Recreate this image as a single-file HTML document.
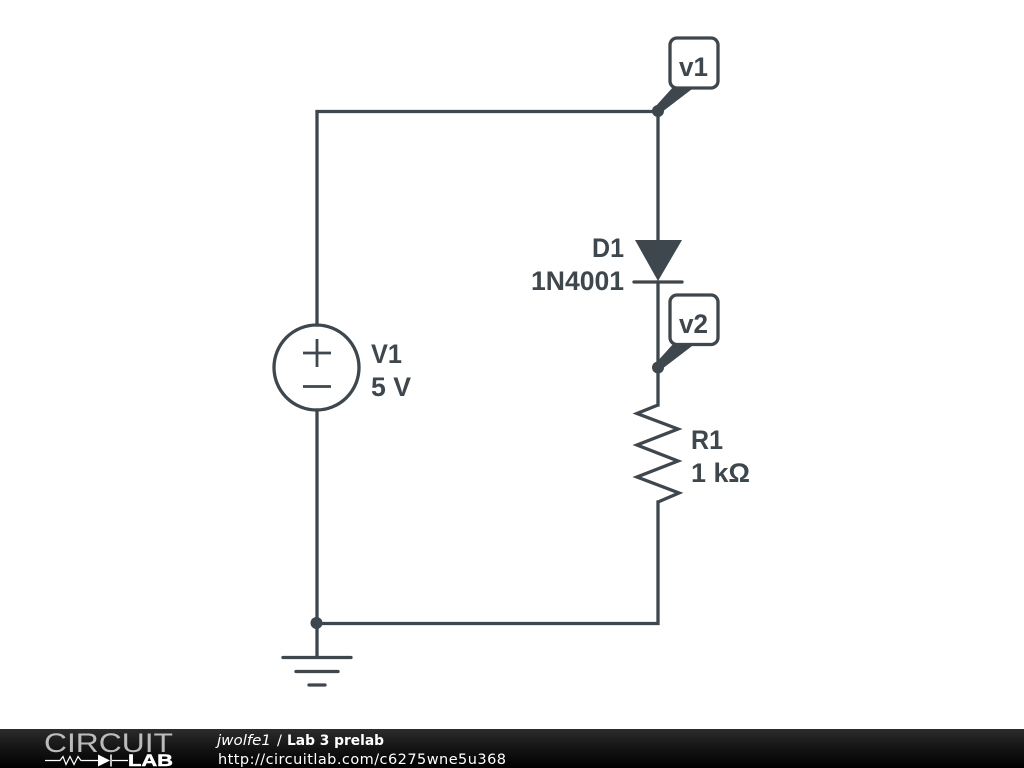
<!DOCTYPE html>
<html><head><meta charset="utf-8"><style>
html,body{margin:0;padding:0;background:#fff;width:1024px;height:768px;overflow:hidden}
svg{display:block}
.l{font-family:"Liberation Sans",Arial,sans-serif;font-weight:700;font-size:26.500px;fill:#3d474d}
.w{fill:none;stroke:#3d474d;stroke-width:3.300;stroke-linecap:square;stroke-linejoin:miter}
.d{font-family:"DejaVu Sans",sans-serif;font-size:14.500px;fill:#fff}
</style></head><body>
<svg width="1024" height="768" viewBox="0 0 1024 768" xmlns="http://www.w3.org/2000/svg">
<defs><linearGradient id="g" x1="0" y1="0" x2="0" y2="1"><stop offset="0" stop-color="#2c2c2c"/><stop offset="0.5" stop-color="#141414"/><stop offset="1" stop-color="#000"/></linearGradient></defs>
<rect width="1024" height="768" fill="#fff"/>
<path class="w" d="M317 325V111.500H658V240M658 282V405M658 502V623.500H317V410M317 623V657"/>
<circle cx="316.500" cy="367.500" r="42.500" fill="none" stroke="#3d474d" stroke-width="3.300"/>
<path d="M303 353H331M317 339V367M303 386.500H331" fill="none" stroke="#3d474d" stroke-width="2.800"/>
<path d="M635 240H682L658 281Z" fill="#3d474d"/>
<path d="M634 282H682" fill="none" stroke="#3d474d" stroke-width="3.300" stroke-linecap="round"/>
<path d="M658 405L637 413.500L678 429L637 445L678 461L637 477L679 493L658 502" fill="none" stroke="#3d474d" stroke-width="3.300" stroke-linejoin="miter"/>
<circle cx="658" cy="111" r="6" fill="#3d474d"/>
<circle cx="658" cy="367.500" r="6" fill="#3d474d"/>
<circle cx="316.500" cy="623" r="6" fill="#3d474d"/>
<path d="M283 657.500H351M296 671.500H338M309 685H325" fill="none" stroke="#3d474d" stroke-width="3.300" stroke-linecap="round"/>
<path d="M655 107L674 86H696L662 112Z" fill="#3d474d"/>
<rect x="670" y="38" width="48" height="50" rx="7" fill="#fff" stroke="#3d474d" stroke-width="3.300"/>
<path d="M655 364L674 343H696L662 369Z" fill="#3d474d"/>
<rect x="670" y="295" width="48" height="49.500" rx="7" fill="#fff" stroke="#3d474d" stroke-width="3.300"/>
<text class="l" x="679" y="76" textLength="29" lengthAdjust="spacingAndGlyphs">v1</text>
<text class="l" x="679" y="333" textLength="29" lengthAdjust="spacingAndGlyphs">v2</text>
<text class="l" x="592" y="257" textLength="32" lengthAdjust="spacingAndGlyphs">D1</text>
<text class="l" x="531" y="290" textLength="93" lengthAdjust="spacingAndGlyphs">1N4001</text>
<text class="l" x="371" y="363" textLength="31" lengthAdjust="spacingAndGlyphs">V1</text>
<text class="l" x="371" y="396" textLength="40" lengthAdjust="spacingAndGlyphs">5 V</text>
<text class="l" x="691" y="449" textLength="32" lengthAdjust="spacingAndGlyphs">R1</text>
<text class="l" x="691" y="482" textLength="59" lengthAdjust="spacingAndGlyphs">1 kΩ</text>
<rect x="0" y="729" width="1024" height="39" fill="url(#g)"/>
<text x="44" y="752" font-family="Liberation Sans,sans-serif" font-size="27" fill="#fff" fill-opacity="0.700" textLength="129" lengthAdjust="spacingAndGlyphs">CIRCUIT</text>
<path d="M45 760.500H60L63 756.500L66 764.500L70 756.500L74 764.500L78 756.500L81 760.500H98M112 760.500H128" fill="none" stroke="#fff" stroke-width="1.200"/>
<path d="M98 754.500V766.500L110 760.500Z" fill="#fff"/><path d="M111 754.500V766.500" stroke="#fff" stroke-width="1.500"/>
<text x="128" y="766" font-family="Liberation Sans,sans-serif" font-weight="700" font-size="17" fill="#fff" stroke="#fff" stroke-width="0.500" textLength="45" lengthAdjust="spacingAndGlyphs">LAB</text>
<text class="d" x="217" y="745" font-style="italic" textLength="54" lengthAdjust="spacingAndGlyphs">jwolfe1</text>
<text class="d" x="277" y="745">/</text>
<text class="d" x="287" y="745" font-weight="700" textLength="97" lengthAdjust="spacingAndGlyphs">Lab 3 prelab</text>
<text class="d" x="218" y="764" textLength="288">http://circuitlab.com/c6275wne5u368</text>
</svg>
</body></html>
